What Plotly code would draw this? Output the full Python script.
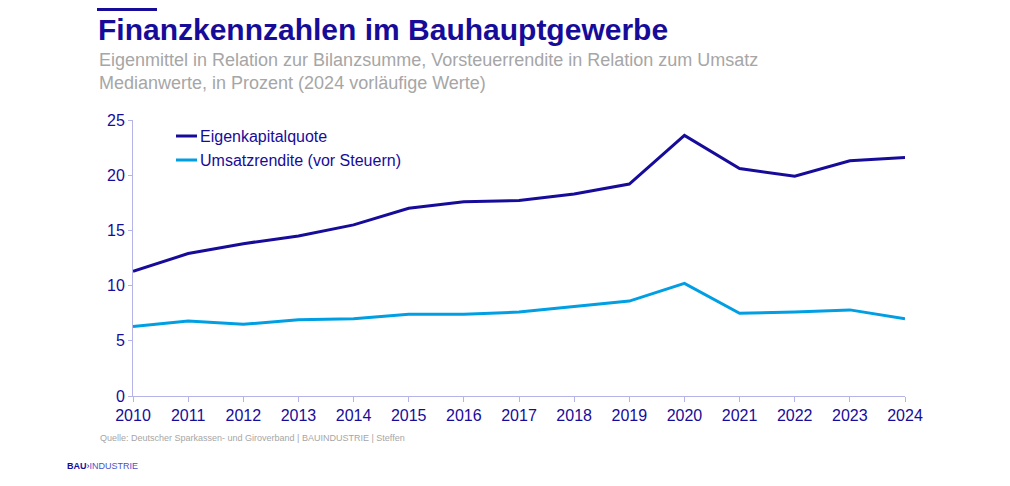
import plotly.graph_objects as go

# data
years = list(range(2010, 2025))
eigenkapitalquote = [11.3, 12.9, 13.8, 14.5, 15.5, 17.0, 17.6, 17.7, 18.3, 19.2,
                     23.6, 20.6, 19.9, 21.3, 21.6]
umsatzrendite = [6.3, 6.8, 6.5, 6.9, 7.0, 7.4, 7.4, 7.6, 8.1, 8.6,
                 10.2, 7.5, 7.6, 7.8, 7.0]

navy = "#170c9a"
light = "#009fe3"
axis_col = "#b4b4e8"
font = "Liberation Sans, Arial, sans-serif"

# plot area in screen pixels (page has an 8px offset)
PL, PR, PT, PB = 133, 905, 120, 396
PW, PH = PR - PL, PB - PT


def px(x):
    return (x - PL) / PW


def py(y):
    return (PB - y) / PH


fig = go.Figure()
fig.add_trace(go.Scatter(x=years, y=eigenkapitalquote, mode="lines",
                         name="Eigenkapitalquote",
                         line=dict(color=navy, width=3)))
fig.add_trace(go.Scatter(x=years, y=umsatzrendite, mode="lines",
                         name="Umsatzrendite (vor Steuern)",
                         line=dict(color=light, width=3)))

fig.update_layout(
    width=1010, height=486,
    margin=dict(l=PL - 8, r=1018 - PR, t=PT - 8, b=494 - PB),
    paper_bgcolor="white", plot_bgcolor="white",
    font=dict(family=font, color=navy, size=16),
    showlegend=False,
)

fig.update_xaxes(range=[2010, 2024], tickvals=years, showgrid=False,
                 showline=True, linecolor=axis_col, linewidth=1,
                 ticks="outside", ticklen=5, tickcolor=axis_col,
                 tickfont=dict(size=16, color=navy), zeroline=False)
fig.update_yaxes(range=[0, 25], tickvals=[0, 5, 10, 15, 20, 25], showgrid=False,
                 showline=True, linecolor=axis_col, linewidth=1,
                 ticks="outside", ticklen=4, tickcolor=axis_col,
                 tickfont=dict(size=16, color=navy), zeroline=False)

# legend drawn by hand (short line keys, like the original)
for name, col, yy in [("Eigenkapitalquote", navy, 136),
                      ("Umsatzrendite (vor Steuern)", light, 160)]:
    fig.add_shape(type="line", xref="paper", yref="paper",
                  x0=px(176), x1=px(197), y0=py(yy), y1=py(yy),
                  line=dict(color=col, width=3))
    fig.add_annotation(text=name, xref="paper", yref="paper",
                       x=px(198), y=py(yy), xanchor="left", yanchor="middle",
                       showarrow=False, font=dict(size=16, color=navy))

# decorative line above title (as high as the canvas allows)
fig.add_shape(type="line", xref="paper", yref="paper",
              x0=px(97), x1=px(157), y0=py(9.5), y1=py(9.5),
              line=dict(color=navy, width=3))

# title, subtitle, source, logo
fig.add_annotation(text="<b>Finanzkennzahlen im Bauhauptgewerbe</b>",
                   xref="paper", yref="paper", x=px(96), y=py(29),
                   xanchor="left", yanchor="middle", showarrow=False,
                   font=dict(size=30, color=navy, family=font))
fig.add_annotation(text="Eigenmittel in Relation zur Bilanzsumme, Vorsteuerrendite in Relation zum Umsatz<br>"
                        "Medianwerte, in Prozent (2024 vorläufige Werte)",
                   xref="paper", yref="paper", x=px(97), y=py(72),
                   xanchor="left", yanchor="middle", showarrow=False, align="left",
                   font=dict(size=18, color="#a6a6a6", family=font))
fig.add_annotation(text="Quelle: Deutscher Sparkassen- und Giroverband | BAUINDUSTRIE | Steffen",
                   xref="paper", yref="paper", x=px(98), y=py(438),
                   xanchor="left", yanchor="middle", showarrow=False,
                   font=dict(size=9, color="#a6a6a6", family=font))
fig.add_annotation(text="<b>BAU</b>›<span style='color:#4a52c8'>INDUSTRIE</span>",
                   xref="paper", yref="paper", x=px(65), y=py(466),
                   xanchor="left", yanchor="middle", showarrow=False,
                   font=dict(size=9, color=navy, family=font))

fig.write_html("out.html")
